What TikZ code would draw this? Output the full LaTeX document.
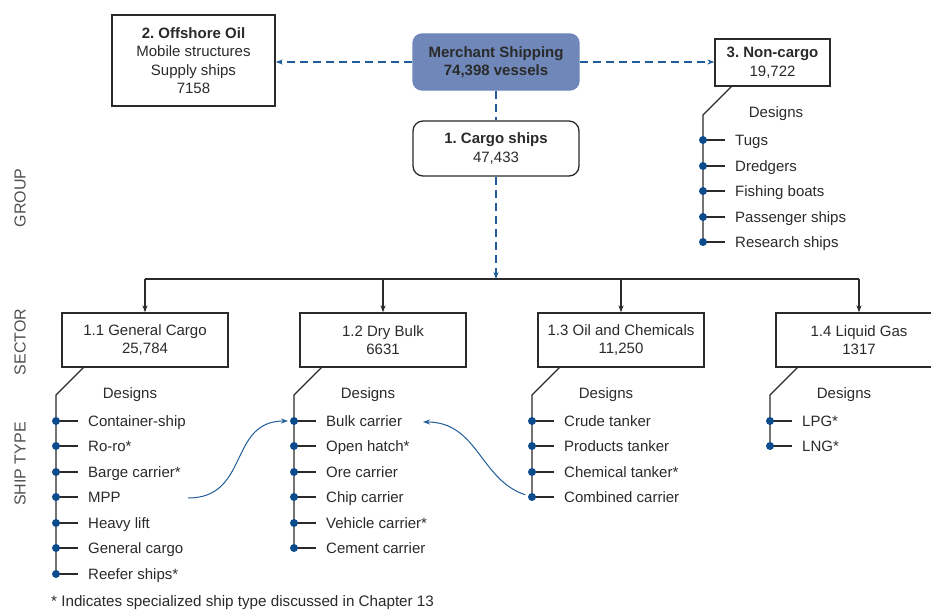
\documentclass[tikz,border=0pt]{standalone}
\usepackage{fontspec}
\setmainfont{Liberation Sans}
\usetikzlibrary{arrows.meta}
\frenchspacing
\definecolor{ink}{HTML}{2A2A2A}
\definecolor{navy}{HTML}{1F5C99}
\definecolor{dotblue}{HTML}{0D4C8C}
\definecolor{shipfill}{HTML}{6F88B9}
\definecolor{sidegray}{HTML}{505050}
\begin{document}
\begin{tikzpicture}[x=1pt,y=-1pt,
  every node/.style={font=\fontsize{15}{18.5}\selectfont, text=ink},
  box/.style={draw=ink, line width=1.3pt, minimum width=166pt, minimum height=54pt,
    align=center, inner sep=0pt},
  roundbox/.style={box, rounded corners=10pt},
  solidarrow/.style={draw=ink, line width=1.3pt, -{Stealth[length=7pt,width=5pt]}},
  dasharrow/.style={draw=navy, line width=1.3pt, dash pattern=on 8pt off 5pt,
    -{Stealth[length=7pt,width=5pt]}},
  dashline/.style={draw=navy, line width=1.3pt, dash pattern=on 8pt off 5pt},
  branch/.style={draw=ink, line width=1.3pt},
  item/.style={anchor=base west, inner sep=0pt},
  designs/.style={inner sep=0pt},
  sidelabel/.style={rotate=90, text=sidegray, font=\fontsize{16}{19}\selectfont},
  curvearrow/.style={draw=navy, line width=1pt, -{Stealth[length=7pt,width=5pt]}}
]
\useasboundingbox (0,0) rectangle (931,610);

% ---------- group level ----------
\node[roundbox, fill=shipfill, draw=shipfill, minimum height=56pt, rounded corners=9pt]
  (merchant) at (496,62) {\textbf{Merchant Shipping}\\\textbf{74,398 vessels}};
\node[box, minimum width=163pt, minimum height=91pt] (offshore) at (193.5,60.5)
  {\textbf{2. Offshore Oil}\\Mobile structures\\Supply ships\\7158};
\node[box, minimum width=115pt, minimum height=47pt] (noncargo) at (772.5,62.5)
  {\textbf{3. Non-cargo}\\19,722};
\node[roundbox, minimum height=55pt] (cargo) at (496,148.5)
  {\textbf{1. Cargo ships}\\47,433};

\draw[dasharrow] (merchant.west) -- (merchant.west -| offshore.east);
\draw[dasharrow] (merchant.east) -- (merchant.east -| noncargo.west);
\draw[dashline] (merchant.south) -- (cargo.north);

% ---------- sector level ----------
\node[box] (s1) at (145,340) {1.1 General Cargo\\25,784};
\node[box] (s2) at (383,340) {1.2 Dry Bulk\\6631};
\node[box] (s3) at (621,340) {1.3 Oil and Chemicals\\11,250};
\node[box] (s4) at (859,340) {1.4 Liquid Gas\\1317};

\coordinate (bus) at (496,279);
\coordinate (bus1) at (145,279);
\coordinate (bus4) at (859,279);
\draw[dasharrow] (cargo.south) -- (bus);
\draw[branch] (bus1) -- (bus4);
\foreach \s in {s1,s2,s3,s4}
  \draw[solidarrow] (\s.north |- bus) -- (\s.north);

% ---------- design lists ----------
% prefix / left x of the sector box / list of designs
\foreach \p/\L/\items in {
    a/62/{Container-ship,Ro-ro*,Barge carrier*,MPP,Heavy lift,General cargo,Reefer ships*},
    b/300/{Bulk carrier,Open hatch*,Ore carrier,Chip carrier,Vehicle carrier*,Cement carrier},
    c/538/{Crude tanker,Products tanker,Chemical tanker*,Combined carrier},
    d/776/{LPG*,LNG*}} {
  \coordinate (\p top) at (\L+22,367);
  \coordinate (\p bend) at (\L-6,395);
  \node[designs] (\p des) at (\L+68,395) {Designs};
  \foreach \t [count=\i] in \items {
    \pgfmathsetmacro{\yy}{round(395+25.5*\i)}
    \coordinate (\p dot\i) at (\L-6,\yy);
    \node[item] (\p item\i) at (\L+26,\yy+5.5) {\t};
    \draw[branch] (\p dot\i) -- ++(22,0);
    \xdef\lastdot{\p dot\i}
  }
  \draw[branch] (\p top) -- (\p bend) -- (\lastdot);
  \foreach \t [count=\i] in \items
    \fill[dotblue] (\p dot\i) circle (4);
}

% non-cargo designs
\coordinate (ntop) at (732,86);
\coordinate (nbend) at (703,115);
\node[designs] (ndes) at (776,114) {Designs};
\foreach \t [count=\i] in {Tugs,Dredgers,Fishing boats,Passenger ships,Research ships} {
  \pgfmathsetmacro{\yy}{round(114.5+25.5*\i)}
  \coordinate (ndot\i) at (703,\yy);
  \node[item] (nitem\i) at (735,\yy+5.5) {\t};
  \draw[branch] (ndot\i) -- ++(22,0);
}
\draw[branch] (ntop) -- (nbend) -- (ndot5);
\foreach \i in {1,...,5}
  \fill[dotblue] (ndot\i) circle (4);

% ---------- cross references ----------
\coordinate (mppstart) at (188,498);
\draw[curvearrow, shorten >=6pt] (mppstart) .. controls (250,498) and (228,421) .. (bdot1);
\coordinate (bulkend) at (423,422);
\draw[curvearrow, shorten <=7pt] (cdot4) .. controls (480,480) and (478,422) .. (bulkend);

% ---------- side labels and footnote ----------
\node[sidelabel] (lgroup) at (20,198) {GROUP};
\node[sidelabel] (lsector) at (20,342) {SECTOR};
\node[sidelabel] (lship) at (20,464) {SHIP TYPE};
\node[anchor=base west, inner sep=0pt, font=\fontsize{15.2}{18}\selectfont] (foot) at (51,606)
  {* Indicates specialized ship type discussed in Chapter 13};
\end{tikzpicture}
\end{document}
